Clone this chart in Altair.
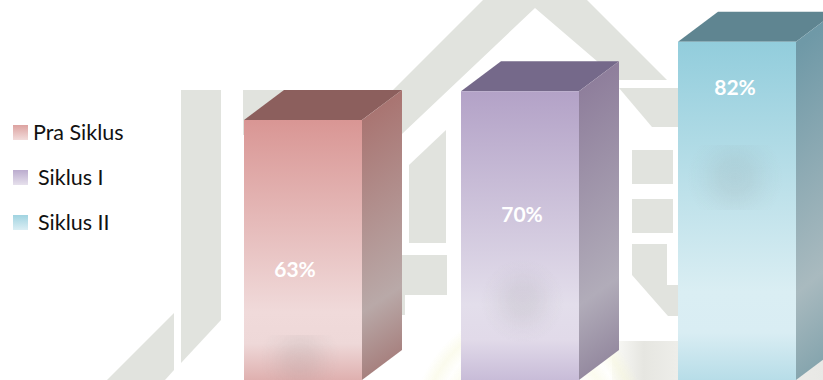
import altair as alt
import pandas as pd

# Chart values
categories = ["Pra Siklus", "Siklus I", "Siklus II"]
values = [63, 70, 82]

# Colours per series: front ramp, side ramp, top face
front_stops = [
    ["#d99694", "#f0dada", "#eed8d8", "#dfb0af"],
    ["#b3a2c7", "#e3deeb", "#e1dae9", "#c8bcd8"],
    ["#92cddc", "#daeef3", "#d9edf3", "#b7dde8"],
]
side_stops = [
    ["#a97572", "#b9a9a8", "#a67f7d"],
    ["#8f7f9c", "#b1acb9", "#94899f"],
    ["#6f99a7", "#a9babf", "#86a5ae"],
]
top_colors = ["#8c5f5d", "#75698a", "#5f8591"]
swatch_stops = [
    ["#dca2a0", "#f2dcdb"],
    ["#bbacce", "#e6e0ec"],
    ["#a0d3e0", "#dbeef4"],
]

# Layout
W, H = 823, 380
Y_MAX = 92.1
BAR_LEFT, BAR_STEP, BAR_W = 244, 217, 118
DEPTH_X, DEPTH_Y_PX = 40, 30
label_x_offset = [51, 61, 57]
label_y_px = [271, 216, 89]
legend_y_px = [125, 170, 215]
legend_text_x = [33, 38, 38]
shade_boxes = [(250, 350, 335, 381), (470, 575, 260, 342), (675, 795, 145, 210)]

# Background emblem outlines, in canvas units
WM = "#e1e3de"
emblem = [
    [(181, 90), (221, 90), (221, 320), (181, 363)],
    [(243, 90), (300, 90), (300, 135), (243, 135)],
    [(107, 380), (174, 313), (174, 370), (165, 380)],
    [(380, 103), (483, 0), (587, 0), (667, 80), (619, 80), (535, 8), (403, 133), (380, 155)],
    [(619, 88), (680, 88), (680, 127), (652, 127)],
    [(409, 165), (446, 130), (446, 243), (409, 243)],
    [(395, 255), (447, 255), (447, 295), (405, 295), (405, 315), (395, 315)],
    [(632, 150), (673, 150), (673, 184), (632, 184)],
    [(632, 199), (673, 199), (673, 233), (632, 233)],
    [(632, 244), (667, 244), (667, 285), (680, 285), (680, 316), (668, 316), (632, 275)],
]


def pct(py):
    """Canvas row to value units on the y scale."""
    return (H - py) / H * Y_MAX


DV = DEPTH_Y_PX / H * Y_MAX
X = alt.X("x:Q", axis=None, scale=alt.Scale(domain=[0, W], nice=False, zero=False))
Y = alt.Y("y:Q", axis=None, scale=alt.Scale(domain=[0, Y_MAX], nice=False, zero=False))


def linear(colors, offsets, x2=0.0, y2=1):
    return alt.Gradient(
        gradient="linear", x1=0, y1=0, x2=x2, y2=y2,
        stops=[alt.GradientStop(color=c, offset=o) for c, o in zip(colors, offsets)],
    )


def radial(colors, offsets):
    return alt.Gradient(
        gradient="radial", x1=0.5, y1=0.5, x2=0.5, y2=0.5, r1=0, r2=0.5,
        stops=[alt.GradientStop(color=c, offset=o) for c, o in zip(colors, offsets)],
    )


def box(fill, x0, x1, py0, py1, clip=False):
    frame = pd.DataFrame([{"x": x0, "x2": x1, "y": pct(py0), "y2": pct(py1)}])
    return alt.Chart(frame).mark_rect(fill=fill, clip=clip).encode(
        x=X, x2="x2:Q", y=Y, y2="y2:Q"
    )


layers = []

# Emblem polygons behind everything
features = [
    {
        "type": "Feature",
        "properties": {},
        "geometry": {"type": "Polygon", "coordinates": [[list(p) for p in poly] + [list(poly[0])]]},
    }
    for poly in emblem
]
layers.append(
    alt.Chart(alt.Data(values=features))
    .mark_geoshape(fill=WM, stroke=None, clip=True)
    .project(type="identity", scale=1, translate=[0, 0])
)

# Pale floor patch and the faint rings of the seal
layers.append(
    box(
        linear(["#fbfbf8", "#e6e6e1", "#f4f4f1", "#e8e8e5"], [0, 0.15, 0.45, 1], x2=1, y2=0),
        612, W, 341, H, clip=True,
    )
)
layers.append(
    box(
        radial(
            ["rgba(246,246,215,0)", "rgba(246,246,215,0.4)", "rgba(246,246,215,0.05)",
             "rgba(246,246,215,0.45)", "rgba(246,246,215,0)"],
            [0.55, 0.68, 0.78, 0.88, 0.98],
        ),
        410, 650, 305, 545, clip=True,
    )
)

# Boxes: top face, side face, front face, soft shading, value label
for i, (cat, v) in enumerate(zip(categories, values)):
    left = BAR_LEFT + i * BAR_STEP
    right = left + BAR_W

    top = pd.DataFrame(
        {
            "x": [left, left + DEPTH_X, right, right + DEPTH_X],
            "y": [v, v + DV, v + DV, v + DV],
            "y2": [v, v, v, v + DV],
        }
    )
    layers.append(
        alt.Chart(top)
        .mark_area(fill=top_colors[i], orient="vertical", clip=True)
        .encode(x=X, y=Y, y2="y2:Q")
    )

    side = pd.DataFrame(
        {"x": [right, right + DEPTH_X], "y": [v, v + DV], "y2": [0, DV]}
    )
    layers.append(
        alt.Chart(side)
        .mark_area(
            fill=linear(side_stops[i], [0.1, 0.76, 1], x2=0.09),
            orient="vertical",
            clip=True,
        )
        .encode(x=X, y=Y, y2="y2:Q")
    )

    front = pd.DataFrame([{"x": left, "x2": right, "y": v, "y2": 0}])
    layers.append(
        alt.Chart(front)
        .mark_rect(fill=linear(front_stops[i], [0, 0.74, 0.86, 1]), clip=True)
        .encode(x=X, x2="x2:Q", y=Y, y2="y2:Q")
    )

    sx0, sx1, sy0, sy1 = shade_boxes[i]
    layers.append(
        box(
            radial(
                ["rgba(120,120,120,0.13)", "rgba(120,120,120,0.11)", "rgba(120,120,120,0.04)", "rgba(120,120,120,0)"],
                [0, 0.25, 0.55, 0.8],
            ),
            sx0, sx1, sy0, sy1,
        )
    )

    label = pd.DataFrame(
        [{"x": left + label_x_offset[i], "y": pct(label_y_px[i]), "t": f"{v}%"}]
    )
    layers.append(
        alt.Chart(label)
        .mark_text(font="Lato", fontWeight="bold", fontSize=21, color="white", align="center", baseline="middle")
        .encode(x=X, y=Y, text="t:N")
    )

# Legend column
for i, cat in enumerate(categories):
    ty = legend_y_px[i]
    layers.append(box(linear(swatch_stops[i], [0, 1]), 13, 28, ty, ty + 15))
    row = pd.DataFrame([{"x": legend_text_x[i], "y": pct(ty + 9), "t": cat}])
    layers.append(
        alt.Chart(row)
        .mark_text(font="Lato", fontSize=21.5, color="#111111", align="left", baseline="middle")
        .encode(x=X, y=Y, text="t:N")
    )

chart = (
    alt.layer(*layers)
    .properties(width=W, height=H, padding=0, autosize="none", background="white")
    .configure_view(stroke=None)
)
chart.save("out.html", embed_options={"renderer": "svg", "actions": False})
